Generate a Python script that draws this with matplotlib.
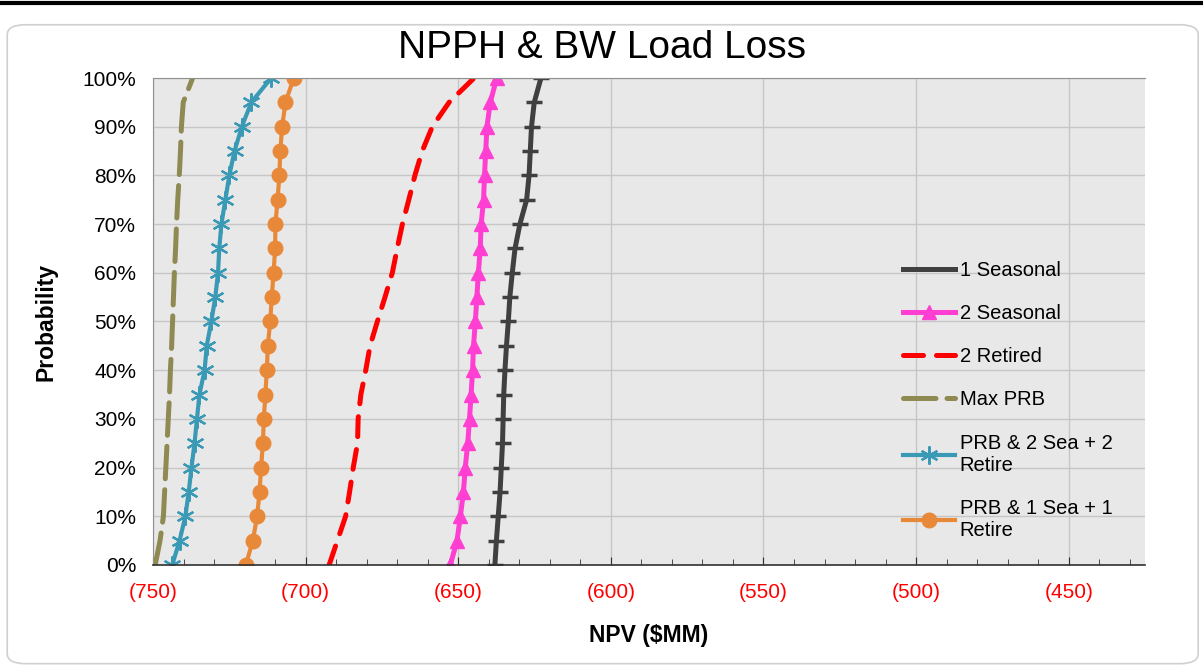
"""
    NPPH & BW Load Loss - cumulative probability of NPV
"""

import matplotlib
matplotlib.use("Agg")
import matplotlib.pyplot as plt
from matplotlib.patches import FancyBboxPatch
from matplotlib.ticker import MultipleLocator, FuncFormatter
import numpy as np

plt.rcParams['font.family'] = ['Liberation Sans', 'DejaVu Sans']

# probability levels (%)
prob = [0, 5, 10, 15, 20, 25, 30, 35, 40, 45, 50, 55, 60, 65, 70, 75, 80, 85, 90, 95, 100]

# NPV ($MM) per series
one_seasonal = [-638.0, -637.5, -636.9, -636.3, -635.9, -635.5, -635.3, -635.1, -634.7, -634.2, -633.6,
                -633.1, -632.3, -631.4, -629.8, -627.6, -626.8, -626.4, -626.0, -625.1, -622.9]
two_seasonal = [-652.6, -650.4, -649.3, -648.3, -647.7, -646.9, -646.3, -645.8, -645.3, -645.0, -644.4,
                -643.9, -643.4, -642.8, -642.5, -641.7, -641.4, -641.0, -640.6, -639.5, -637.4]
two_retired = [-692.3, -689.6, -686.9, -685.6, -684.4, -683.0, -682.8, -681.9, -680.3, -678.9, -676.5,
               -674.0, -671.6, -670.0, -668.3, -666.2, -664.2, -661.8, -658.5, -653.0, -644.8]
max_prb = [-749.3, -747.7, -746.6, -746.2, -745.8, -745.4, -745.0, -744.6, -744.3, -743.9, -743.6,
           -743.3, -743.0, -742.6, -742.3, -741.9, -741.4, -741.0, -740.7, -740.1, -737.0]
prb_2sea_2ret = [-743.7, -741.3, -739.4, -738.3, -737.4, -736.4, -735.6, -734.8, -733.1, -732.4, -730.9,
                 -729.6, -728.7, -728.3, -727.6, -726.3, -725.0, -723.3, -720.9, -717.8, -711.3]
prb_1sea_1ret = [-719.6, -717.3, -715.9, -715.1, -714.6, -714.0, -713.7, -713.2, -712.7, -712.4, -711.6,
                 -711.1, -710.5, -710.0, -709.9, -709.2, -708.6, -708.3, -707.7, -706.6, -703.9]

labels = ["1 Seasonal", "2 Seasonal", "2 Retired", "Max PRB",
          "PRB & 2 Sea + 2\nRetire", "PRB & 1 Sea + 1\nRetire"]

fig = plt.figure(figsize=(12.03, 6.69), dpi=100)
fig.patch.set_facecolor('white')

# slide-style frame round the chart
frame = FancyBboxPatch((0.006, 0.008), 0.99, 0.955, boxstyle="round,pad=0,rounding_size=0.015",
                       transform=fig.transFigure, facecolor='white', edgecolor='#d0d0d0', lw=1.2,
                       zorder=-10)
fig.patches.append(frame)
fig.add_artist(plt.Line2D([0, 1], [0.996, 0.996], transform=fig.transFigure, color='black', lw=3,
                          zorder=-10))

ax = fig.add_axes([0.1272, 0.1555, 0.8246, 0.7279])
ax.set_facecolor('#e8e8e8')

lw = 3.6
ax.plot(one_seasonal, prob, color='#404040', lw=lw, marker='_', ms=11, mew=2.5, label=labels[0])
ax.plot(two_seasonal, prob, color='#ff3fd2', lw=lw, marker='^', ms=10.5, label=labels[1])
ax.plot(two_retired, prob, color='#ff0000', lw=lw, dashes=(4, 2.6), dash_capstyle='round', label=labels[2])
ax.plot(max_prb, prob, color='#8f8a52', lw=lw, dashes=(6.5, 2.2), dash_capstyle='round', label=labels[3])
ax.plot(prb_2sea_2ret, prob, color='#3a9ab5', lw=lw - 0.6, marker=(6, 2, 0), ms=13, mew=1.6,
        label=labels[4])
ax.plot(prb_1sea_1ret, prob, color='#e8893a', lw=lw - 0.6, marker='o', ms=10.5, label=labels[5])

ax.set_xlim(-750, -425)
ax.set_ylim(0, 100)
ax.xaxis.set_major_locator(MultipleLocator(50))
ax.xaxis.set_minor_locator(MultipleLocator(10))
ax.yaxis.set_major_locator(MultipleLocator(10))
ax.xaxis.set_major_formatter(FuncFormatter(lambda v, p: "(%d)" % abs(v) if v < 0 else "%d" % v))
ax.yaxis.set_major_formatter(FuncFormatter(lambda v, p: "%d%%" % v))

ax.grid(True, which='major', color='#c6c6c6', lw=1)
ax.set_axisbelow(True)
for s in ['left', 'top']:
    ax.spines[s].set_color('#909090')
ax.spines['right'].set_visible(False)
ax.spines['bottom'].set_color('#303030')
ax.spines['bottom'].set_linewidth(1.2)

ax.tick_params(axis='x', which='major', direction='in', length=6, colors='#303030',
               labelcolor='#ff0000', labelsize=15, pad=13)
ax.tick_params(axis='x', which='minor', direction='in', length=4, colors='#303030')
ax.tick_params(axis='y', length=0, labelsize=15, pad=12)

ax.set_xlabel("NPV ($MM)", fontsize=16.5, fontweight='bold', labelpad=16)
ax.set_ylabel("Probability", fontsize=16.5, fontweight='bold', labelpad=18)

fig.suptitle("NPPH & BW Load Loss", fontsize=28, y=0.955,
             family=['Liberation Sans Narrow', 'Liberation Sans', 'DejaVu Sans'])

ax.legend(loc='upper left', bbox_to_anchor=(0.746, 0.645), frameon=False, fontsize=14.5,
          handlelength=2.6, handletextpad=0.2, labelspacing=1.2, borderpad=0)

fig.savefig("out.png", dpi=100)
